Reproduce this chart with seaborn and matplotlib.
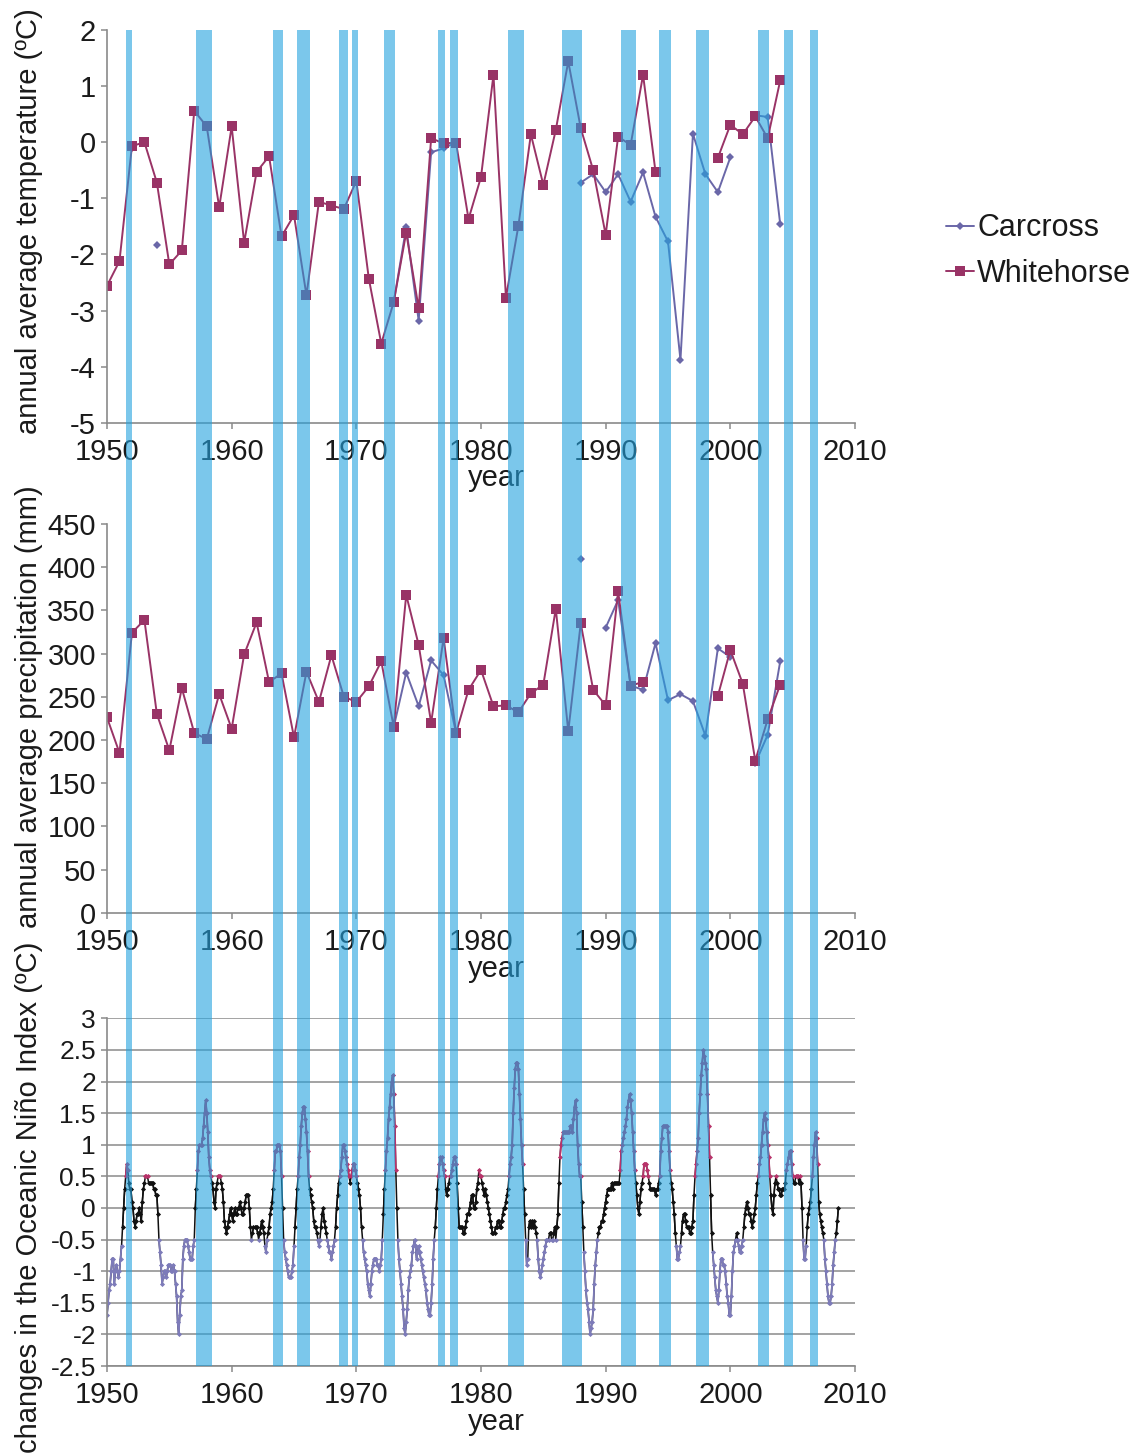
import numpy as np
import pandas as pd
import matplotlib
matplotlib.use("Agg")
import matplotlib.pyplot as plt
import seaborn as sns
from matplotlib.lines import Line2D

# ---------------------------------------------------------------- data
years = np.arange(1950, 2005)

whitehorse_temp = [
    -2.56, -2.12, -0.07, 0.00, -0.72, -2.18, -1.93, 0.56, 0.28, -1.16,
    0.28, -1.79, -0.53, -0.25, -1.68, -1.30, -2.73, -1.06, -1.13, -1.19,
    -0.69, -2.43, -3.59, -2.85, -1.61, -2.96, 0.07, -0.02, -0.01, -1.37,
    -0.62, 1.20, -2.77, -1.49, 0.14, -0.76, 0.22, 1.44, 0.25, -0.50,
    -1.65, 0.10, -0.05, 1.20, -0.53, np.nan, np.nan, np.nan, np.nan, -0.28,
    0.31, 0.14, 0.46, 0.07, 1.10]

carcross_temp = [
    np.nan, np.nan, -0.10, np.nan, -1.83, np.nan, np.nan, np.nan, np.nan, np.nan,
    np.nan, np.nan, np.nan, np.nan, np.nan, np.nan, np.nan, np.nan, np.nan, np.nan,
    np.nan, np.nan, np.nan, -2.85, -1.52, -3.18, -0.18, -0.11, 0.00, np.nan,
    np.nan, np.nan, np.nan, np.nan, np.nan, np.nan, np.nan, np.nan, -0.72, -0.57,
    -0.89, -0.57, -1.06, -0.54, -1.33, -1.77, -3.88, 0.15, -0.57, -0.89,
    -0.27, np.nan, 0.48, 0.45, -1.46]

whitehorse_precip = [
    226, 185, 324, 339, 230, 188, 260, 208, 201, 253,
    213, 299, 336, 267, 277, 203, 279, 244, 298, 250,
    244, 262, 291, 215, 368, 310, 220, 318, 208, 258,
    281, 239, 240, 232, 254, 264, 352, 210, 335, 258,
    240, 372, 263, 267, np.nan, np.nan, np.nan, np.nan, np.nan, 251,
    304, 265, 176, 224, 264]

carcross_precip = [
    np.nan, np.nan, np.nan, np.nan, np.nan, np.nan, np.nan, np.nan, np.nan, np.nan,
    np.nan, np.nan, np.nan, np.nan, np.nan, np.nan, np.nan, np.nan, np.nan, np.nan,
    np.nan, np.nan, np.nan, 215, 278, 239, 292, 275, 208, np.nan,
    np.nan, np.nan, np.nan, np.nan, np.nan, np.nan, np.nan, np.nan, 409, np.nan,
    330, 362, 263, 258, 312, 246, 253, 245, 205, 306,
    296, np.nan, 173, 206, 291]

# Oceanic Nino Index, monthly values from January 1950
oni_1950s = [
    -1.7, -1.5, -1.3, -1.2, -1.0, -0.8, -0.8, -1.2, -1.0, -0.9, -1.0, -1.1,
    -1.0, -0.8, -0.6, -0.3, 0.0, 0.3, 0.5, 0.7, 0.6, 0.4, 0.3, 0.3,
    0.1, 0.0, -0.2, -0.3, -0.2, -0.1, -0.1, 0.0, -0.1, -0.2, 0.1, 0.3,
    0.4, 0.5, 0.5, 0.5, 0.4, 0.4, 0.4, 0.4, 0.4, 0.3, 0.3, 0.2,
    0.2, -0.1, -0.5, -0.7, -0.9, -1.2, -1.1, -1.0, -1.0, -1.1, -1.0, -0.9,
    -0.9, -0.9, -1.0, -1.0, -0.9, -1.0, -1.2, -1.4, -1.8, -2.0, -1.7, -1.4,
    -1.3, -0.8, -0.6, -0.5, -0.5, -0.5, -0.6, -0.7, -0.8, -0.8, -0.8, -0.6,
    -0.5, 0.0, 0.3, 0.6, 0.9, 1.0, 1.0, 1.0, 1.1, 1.3, 1.5, 1.7,
    1.5, 1.2, 0.8, 0.6, 0.5, 0.4, 0.3, 0.1, 0.0, 0.3, 0.4, 0.5,
    0.5, 0.5, 0.4, 0.3, 0.1, -0.2, -0.3, -0.4, -0.3, -0.2, -0.1, 0.0]
oni_1960s = [
    -0.1, -0.2, -0.1, 0.0, -0.1, -0.1, 0.0, 0.0, 0.1, 0.0, -0.1, -0.1,
    0.0, 0.1, 0.2, 0.2, 0.2, 0.0, -0.3, -0.5, -0.4, -0.3, -0.3, -0.3,
    -0.3, -0.4, -0.5, -0.4, -0.3, -0.2, -0.3, -0.4, -0.6, -0.7, -0.5, -0.4,
    -0.3, -0.1, 0.0, 0.1, 0.3, 0.6, 0.9, 0.9, 1.0, 1.0, 1.0, 0.9,
    0.5, 0.0, -0.5, -0.7, -0.8, -0.9, -1.0, -1.1, -1.1, -1.1, -1.0, -0.9,
    -0.6, -0.3, 0.0, 0.3, 0.5, 0.8, 1.0, 1.3, 1.5, 1.6, 1.6, 1.4,
    1.2, 0.9, 0.5, 0.3, 0.2, 0.1, 0.0, -0.2, -0.3, -0.3, -0.4, -0.5,
    -0.6, -0.5, -0.3, -0.1, 0.0, -0.2, -0.3, -0.4, -0.5, -0.6, -0.7, -0.7,
    -0.8, -0.7, -0.6, -0.5, -0.3, 0.0, 0.2, 0.4, 0.5, 0.6, 0.8, 1.0,
    1.0, 0.9, 0.8, 0.7, 0.6, 0.5, 0.4, 0.5, 0.6, 0.7, 0.7, 0.6]
oni_1970s = [
    0.5, 0.4, 0.3, 0.2, 0.0, -0.3, -0.5, -0.7, -0.8, -0.9, -1.0, -1.2,
    -1.3, -1.4, -1.2, -1.0, -0.9, -0.8, -0.8, -0.8, -0.9, -0.9, -1.0, -0.9,
    -0.8, -0.5, -0.1, 0.3, 0.6, 0.9, 1.1, 1.4, 1.6, 1.8, 2.0, 2.1,
    1.8, 1.3, 0.6, 0.0, -0.5, -0.8, -1.0, -1.2, -1.4, -1.6, -1.9, -2.0,
    -1.8, -1.6, -1.3, -1.1, -1.0, -0.9, -0.7, -0.6, -0.5, -0.6, -0.8, -0.7,
    -0.6, -0.7, -0.8, -0.9, -1.0, -1.1, -1.2, -1.3, -1.5, -1.6, -1.7, -1.7,
    -1.5, -1.2, -0.8, -0.5, -0.3, 0.0, 0.3, 0.5, 0.7, 0.8, 0.8, 0.7,
    0.6, 0.5, 0.3, 0.2, 0.3, 0.4, 0.5, 0.5, 0.6, 0.7, 0.8, 0.8,
    0.7, 0.4, 0.0, -0.3, -0.3, -0.3, -0.3, -0.4, -0.4, -0.3, -0.2, -0.1,
    -0.1, 0.0, 0.1, 0.2, 0.2, 0.0, 0.0, 0.1, 0.3, 0.4, 0.6, 0.5]
oni_1980s = [
    0.5, 0.4, 0.3, 0.2, 0.3, 0.2, 0.1, 0.0, -0.1, -0.2, -0.3, -0.4,
    -0.4, -0.4, -0.3, -0.3, -0.2, -0.2, -0.3, -0.3, -0.2, -0.1, 0.0, 0.0,
    0.1, 0.2, 0.3, 0.5, 0.7, 0.8, 1.0, 1.5, 1.9, 2.2, 2.3, 2.3,
    2.2, 1.8, 1.4, 1.0, 0.7, 0.3, -0.1, -0.5, -0.9, -0.8, -0.3, -0.2,
    -0.3, -0.2, -0.3, -0.2, -0.3, -0.4, -0.5, -0.8, -1.0, -1.1, -1.0, -0.9,
    -0.8, -0.7, -0.6, -0.5, -0.5, -0.5, -0.4, -0.4, -0.5, -0.5, -0.4, -0.3,
    -0.5, -0.3, -0.1, 0.4, 0.8, 1.0, 1.1, 1.2, 1.2, 1.2, 1.2, 1.2,
    1.2, 1.2, 1.3, 1.3, 1.2, 1.4, 1.6, 1.7, 1.5, 1.0, 0.7, 0.5,
    0.5, 0.1, -0.3, -0.7, -1.0, -1.3, -1.5, -1.6, -1.8, -2.0, -1.9, -1.8,
    -1.6, -1.2, -0.9, -0.7, -0.5, -0.4, -0.3, -0.3, -0.2, -0.2, -0.1, 0.0]
oni_1990s = [
    0.1, 0.2, 0.3, 0.3, 0.3, 0.3, 0.4, 0.3, 0.4, 0.4, 0.4, 0.4,
    0.4, 0.4, 0.6, 0.9, 1.0, 1.1, 1.2, 1.3, 1.4, 1.6, 1.7, 1.8,
    1.7, 1.5, 1.2, 0.9, 0.6, 0.4, 0.2, 0.0, -0.1, 0.1, 0.3, 0.4,
    0.5, 0.7, 0.7, 0.7, 0.6, 0.5, 0.4, 0.3, 0.3, 0.3, 0.3, 0.3,
    0.2, 0.3, 0.3, 0.4, 0.5, 0.9, 1.1, 1.3, 1.3, 1.3, 1.3, 1.3,
    1.2, 0.9, 0.6, 0.4, 0.3, 0.1, -0.1, -0.4, -0.6, -0.8, -0.8, -0.7,
    -0.6, -0.4, -0.2, -0.1, -0.1, -0.2, -0.3, -0.3, -0.3, -0.4, -0.4, -0.3,
    -0.2, 0.2, 0.5, 0.7, 0.9, 1.1, 1.5, 1.8, 2.1, 2.3, 2.5, 2.4,
    2.3, 2.2, 1.8, 1.3, 0.8, 0.2, -0.4, -0.7, -0.9, -1.1, -1.3, -1.4,
    -1.5, -1.3, -1.0, -0.8, -0.8, -0.9, -0.9, -1.0, -1.2, -1.4, -1.5, -1.7]
oni_2000s = [
    -1.7, -1.4, -1.0, -0.7, -0.6, -0.5, -0.4, -0.5, -0.6, -0.7, -0.7, -0.6,
    -0.5, -0.3, -0.1, 0.0, 0.1, 0.0, -0.1, -0.1, -0.2, -0.3, -0.2, -0.1,
    0.0, 0.2, 0.4, 0.5, 0.7, 0.8, 1.0, 1.2, 1.4, 1.5, 1.4, 1.2,
    1.0, 0.8, 0.5, 0.2, 0.0, -0.1, 0.2, 0.4, 0.5, 0.4, 0.3, 0.3,
    0.2, 0.2, 0.3, 0.3, 0.3, 0.4, 0.6, 0.7, 0.8, 0.9, 0.9, 0.7,
    0.5, 0.4, 0.4, 0.5, 0.5, 0.5, 0.4, 0.5, 0.4, 0.0, -0.5, -0.8,
    -0.8, -0.6, -0.3, -0.1, 0.0, 0.1, 0.3, 0.5, 0.8, 1.0, 1.2, 1.1,
    0.7, 0.1, -0.1, -0.2, -0.3, -0.4, -0.5, -0.8, -1.0, -1.2, -1.4, -1.5,
    -1.5, -1.4, -1.2, -0.9, -0.7, -0.5, -0.4, -0.2, 0.0]

# El Nino episodes (decimal years) shaded across all panels
nino_start = [1951.55, 1957.17, 1963.33, 1965.26, 1968.63, 1969.62, 1972.20,
              1976.56, 1977.52, 1982.20, 1986.50, 1991.26, 1994.28, 1997.23,
              2002.18, 2004.30, 2006.39]
nino_end = [1952.02, 1958.46, 1964.08, 1966.28, 1969.30, 1970.10, 1973.13,
            1977.15, 1978.14, 1983.44, 1988.13, 1992.46, 1995.22, 1998.30,
            2003.12, 2005.05, 2007.00]

x_ticks = [1950, 1960, 1970, 1980, 1990, 2000, 2010]
temp_ticks = [-5, -4, -3, -2, -1, 0, 1, 2]
precip_ticks = [0, 50, 100, 150, 200, 250, 300, 350, 400, 450]
oni_ticks = [-2.5, -2, -1.5, -1, -0.5, 0, 0.5, 1, 1.5, 2, 2.5, 3]

# ---------------------------------------------------------------- style
sns.set_theme(style="white")
plt.rcParams["font.family"] = ["Liberation Sans", "DejaVu Sans"]
plt.rcParams["axes.unicode_minus"] = False

W, H = 1135, 1456
fig = plt.figure(figsize=(W / 100, H / 100), dpi=100)

C_WHITE = "#993366"
C_CARC = "#6A67A8"
C_NINO = "#B8336A"
C_NINA = "#7D7BB9"
C_NEUT = "#111111"
SPINE = "#8a8a8a"
TXT = "#1a1a1a"
FS = 21

X0, X1 = 107, 855


def add_panel(top_px, bottom_px):
    return fig.add_axes([X0 / W, 1 - bottom_px / H, (X1 - X0) / W,
                         (bottom_px - top_px) / H])


def runs(x, y):
    y = np.asarray(y, dtype=float)
    idx = np.flatnonzero(~np.isnan(y))
    if len(idx) == 0:
        return []
    groups = np.split(idx, np.where(np.diff(idx) != 1)[0] + 1)
    return [(np.asarray(x)[g], y[g]) for g in groups]


def draw_series(ax, x, y, color, marker, ms, lw=1.4, mew=0):
    for xs, ys in runs(x, y):
        sns.lineplot(x=xs, y=ys, ax=ax, color=color, marker=marker,
                     markersize=ms, markeredgewidth=mew, markeredgecolor=color,
                     linewidth=lw, estimator=None, sort=False, legend=False)


def style_axis(ax, yticks, ylim, ylabel, ylab_y, xlab_y, ytick_fs=FS):
    ax.set_xlim(1950, 2010)
    ax.set_ylim(*ylim)
    ax.set_xticks(x_ticks)
    ax.set_xticklabels([str(t) for t in x_ticks])
    ax.set_yticks(yticks)
    ax.set_yticklabels([("%g" % t) for t in yticks])
    for s in ("top", "right"):
        ax.spines[s].set_visible(False)
    for s in ("left", "bottom"):
        ax.spines[s].set_color(SPINE)
        ax.spines[s].set_linewidth(1.2)
    ax.tick_params(axis="x", direction="out", length=4, width=1.1,
                   color=SPINE, labelsize=FS, labelcolor=TXT, pad=7,
                   bottom=True)
    ax.tick_params(axis="y", direction="out", length=4, width=1.1,
                   color=SPINE, labelsize=ytick_fs, labelcolor=TXT, pad=4,
                   left=True)
    ax.set_ylabel(ylabel, fontsize=FS, color=TXT)
    ax.yaxis.set_label_coords(-0.085, ylab_y)
    ax.set_xlabel("year", fontsize=FS, color=TXT)
    ax.xaxis.set_label_coords(0.52, xlab_y)
    ax.set_facecolor("none")


# ---------------------------------------------------------------- temperature
ax1 = add_panel(30, 422.7)
draw_series(ax1, years, carcross_temp, C_CARC, "D", 4.5)
draw_series(ax1, years, whitehorse_temp, C_WHITE, "s", 7)
style_axis(ax1, temp_ticks, (-5, 2), "annual average temperature (ºC)",
           0.514, -0.105)

# ---------------------------------------------------------------- precipitation
ax2 = add_panel(524, 912.7)
draw_series(ax2, years, carcross_precip, C_CARC, "D", 4.5)
draw_series(ax2, years, whitehorse_precip, C_WHITE, "s", 7)
style_axis(ax2, precip_ticks, (0, 450), "annual average precipitation (mm)",
           0.53, -0.108)

# ---------------------------------------------------------------- ONI
oni = np.array(oni_1950s + oni_1960s + oni_1970s + oni_1980s + oni_1990s
               + oni_2000s, dtype=float)
t = 1950 + np.arange(len(oni)) / 12.0

ax3 = add_panel(1018.3, 1366)
for v in oni_ticks:
    ax3.axhline(v, color="#8a8a8a", lw=1.1, zorder=0)
neutral = np.where(np.abs(oni) < 0.5, oni, np.nan)
nino = np.where(oni >= 0.5, oni, np.nan)
nina = np.where(oni <= -0.5, oni, np.nan)
sns.lineplot(x=t, y=oni, ax=ax3, color=C_NEUT, linewidth=1.1,
             estimator=None, sort=False, legend=False)
draw_series(ax3, t, neutral, C_NEUT, "D", 2.6, lw=1.1)
draw_series(ax3, t, nina, C_NINA, "D", 2.6, lw=1.3)
draw_series(ax3, t, nino, C_NINO, "D", 2.6, lw=1.3)
style_axis(ax3, oni_ticks, (-2.5, 3),
           "changes in the Oceanic Niño Index (ºC)", 0.486, -0.12,
           ytick_fs=19)

# ---------------------------------------------------------------- El Nino bands
ov = fig.add_axes([X0 / W, 1 - 1366 / H, (X1 - X0) / W, (1366 - 30) / H],
                  zorder=10)
ov.set_xlim(1950, 2010)
ov.set_ylim(0, 1)
ov.axis("off")
ov.patch.set_alpha(0)
for s, e in zip(nino_start, nino_end):
    ov.axvspan(s, e, color="#23A2DE", alpha=0.6, lw=0)

# ---------------------------------------------------------------- legend
handles = [
    Line2D([0], [0], color=C_CARC, marker="D", markersize=4.5, lw=1.4,
           markeredgewidth=0),
    Line2D([0], [0], color=C_WHITE, marker="s", markersize=7, lw=1.4,
           markeredgewidth=0),
]
fig.legend(handles, ["Carcross", "Whitehorse"], loc="center left",
           bbox_to_anchor=(946 / W, 1 - 251 / H), frameon=False,
           fontsize=22, handlelength=0.9, handletextpad=0.12,
           labelspacing=0.5, borderpad=0, borderaxespad=0, labelcolor=TXT)

fig.savefig("out.png", dpi=100)
